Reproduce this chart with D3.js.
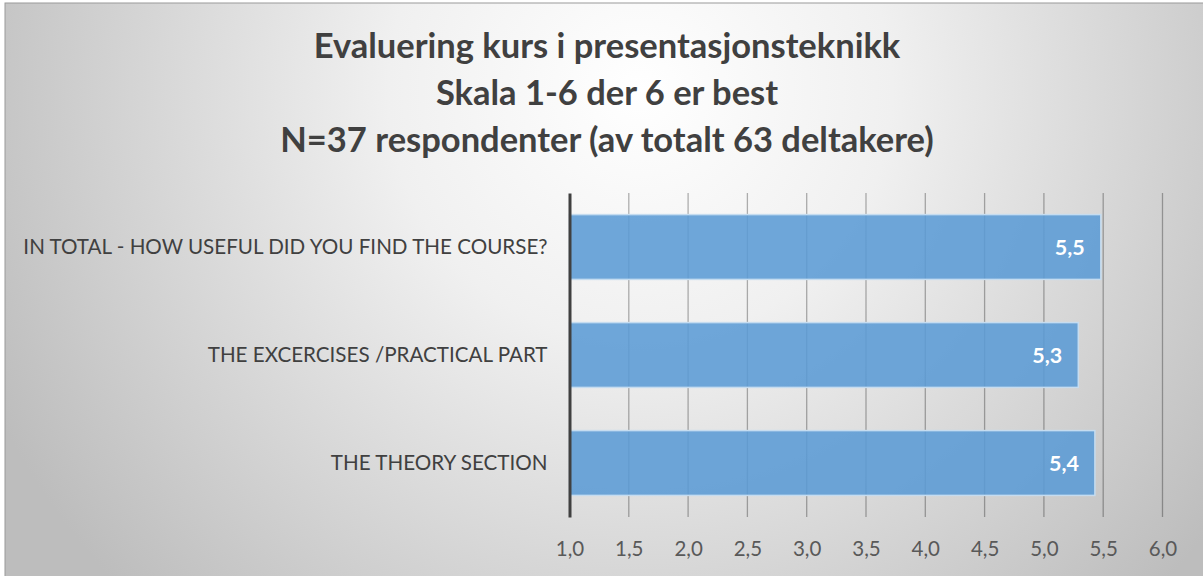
<!DOCTYPE html>
<html>
<head>
<meta charset="utf-8">
<script src="https://cdn.jsdelivr.net/npm/d3@7"></script>
<style>
  body { margin: 0; background: #fff; }
  svg { display: block; }
</style>
</head>
<body>
<div id="chart"></div>
<script>
// data
const categories = [
  "IN TOTAL - HOW USEFUL DID YOU FIND THE COURSE?",
  "THE EXCERCISES /PRACTICAL PART",
  "THE THEORY SECTION"
];
const values = [5.48, 5.29, 5.43];
const tickValues = [1.0, 1.5, 2.0, 2.5, 3.0, 3.5, 4.0, 4.5, 5.0, 5.5, 6.0];
const titleLines = [
  "Evaluering kurs i presentasjonsteknikk",
  "Skala 1-6 der 6 er best",
  "N=37 respondenter (av totalt 63 deltakere)"
];

const width = 1203, height = 576;
const plot = { left: 569.5, right: 1162.5, top: 193, bottom: 517 };
const font = "Lato, 'Open Sans', sans-serif";
const fmt = v => d3.format(".1f")(v).replace(".", ",");

const svg = d3.select("#chart").append("svg")
  .attr("width", width)
  .attr("height", height);

// background gradient
const defs = svg.append("defs");
const grad = defs.append("radialGradient")
  .attr("id", "bg")
  .attr("gradientUnits", "userSpaceOnUse")
  .attr("cx", 640).attr("cy", 90).attr("r", 720)
  .attr("fx", 640).attr("fy", 90);
grad.append("stop").attr("offset", "0%").attr("stop-color", "#ffffff");
grad.append("stop").attr("offset", "35%").attr("stop-color", "#f0f0f0");
grad.append("stop").attr("offset", "100%").attr("stop-color", "#bdbdbd");

svg.append("rect")
  .attr("x", 5).attr("y", 3)
  .attr("width", width).attr("height", height)
  .attr("fill", "url(#bg)")
  .attr("stroke", "#9a9a9a")
  .attr("stroke-width", 1);

// title
svg.append("g")
  .selectAll("text")
  .data(titleLines)
  .join("text")
  .attr("x", 607)
  .attr("y", (d, i) => 58 + i * 47)
  .attr("text-anchor", "middle")
  .style("font-family", font)
  .style("font-weight", "bold")
  .style("font-size", "34.5px")
  .style("fill", "#404040")
  .text(d => d);

// scales
const x = d3.scaleLinear().domain([1, 6]).range([plot.left, plot.right]);
const y = d3.scaleBand()
  .domain(categories)
  .range([plot.top, plot.bottom])
  .paddingInner(0.4)
  .paddingOuter(0.2);

// gridlines
svg.append("g")
  .selectAll("line")
  .data(tickValues.slice(1))
  .join("line")
  .attr("x1", d => x(d)).attr("x2", d => x(d))
  .attr("y1", plot.top).attr("y2", plot.bottom)
  .attr("stroke", "rgba(0,0,0,0.3)")
  .attr("stroke-width", 1.3);

// bars
const bars = svg.append("g");
bars.selectAll("rect")
  .data(values)
  .join("rect")
  .attr("x", x(1))
  .attr("y", (d, i) => y(categories[i]))
  .attr("width", d => x(d) - x(1))
  .attr("height", y.bandwidth())
  .attr("fill", "#5b9bd5")
  .attr("fill-opacity", 0.88)
  .attr("stroke", "#c5dcf0")
  .attr("stroke-width", 1.5);

// value labels
bars.selectAll("text")
  .data(values)
  .join("text")
  .attr("x", d => x(d) - 16)
  .attr("y", (d, i) => y(categories[i]) + y.bandwidth() / 2)
  .attr("dy", "0.36em")
  .attr("text-anchor", "end")
  .style("font-family", font)
  .style("font-weight", "bold")
  .style("font-size", "21.5px")
  .style("fill", "#ffffff")
  .text(d => fmt(d));

// x axis labels
const xAxis = svg.append("g")
  .attr("transform", `translate(0,${plot.bottom})`)
  .call(d3.axisBottom(x).tickValues(tickValues).tickFormat(fmt).tickSize(0).tickPadding(24));
xAxis.select(".domain").remove();
xAxis.selectAll("text")
  .style("font-family", font)
  .style("font-size", "20.5px")
  .style("fill", "#595959");

// y axis
const yAxis = svg.append("g")
  .attr("transform", `translate(${plot.left},0)`)
  .call(d3.axisLeft(y).tickSize(0).tickPadding(22));
yAxis.select(".domain")
  .attr("stroke", "#404040")
  .attr("stroke-width", 3);
yAxis.selectAll("text")
  .style("font-family", font)
  .style("font-size", "20.6px")
  .style("fill", "#404040");
</script>
</body>
</html>
